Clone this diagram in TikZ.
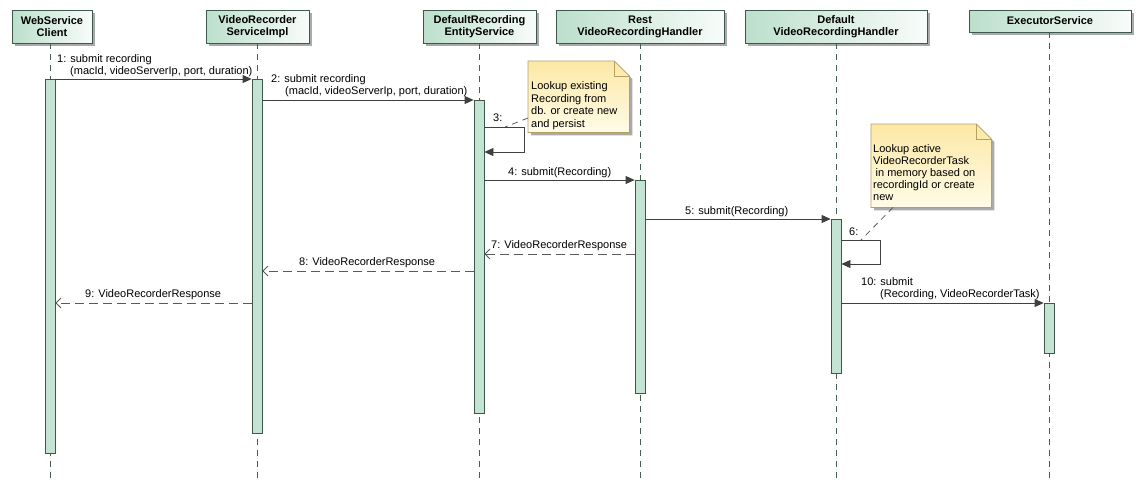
\documentclass[tikz,border=0pt]{standalone}
\usepackage{fontspec}
\setmainfont{Liberation Sans}
\usetikzlibrary{arrows.meta,calc,shadows}
\definecolor{hdrL}{RGB}{188,223,204}
\definecolor{hdrR}{RGB}{248,252,250}
\definecolor{bord}{RGB}{62,88,78}
\definecolor{actfill}{RGB}{196,227,211}
\definecolor{lifec}{RGB}{70,95,85}
\definecolor{arrc}{RGB}{64,64,64}
\definecolor{retc}{RGB}{90,90,90}
\definecolor{noteA}{RGB}{252,232,165}
\definecolor{noteB}{RGB}{255,251,232}
\definecolor{noteBd}{RGB}{180,160,100}
\definecolor{shad}{RGB}{170,170,170}
\newcommand\msgfnt{\fontsize{11}{12}\selectfont}
\begin{document}
\begin{tikzpicture}[x=1pt,y=-1pt,
  hdr/.style={draw=bord, line width=0.8pt, left color=hdrL, right color=hdrR,
    font=\bfseries\fontsize{11}{12}\selectfont, align=center, inner sep=0pt,
    drop shadow={shadow xshift=3pt, shadow yshift=-3pt, fill=shad, opacity=1}},
  act/.style={draw=bord, line width=0.8pt, fill=actfill, minimum width=10pt, inner sep=0pt, anchor=north},
  lifeln/.style={draw=lifec, line width=0.8pt, dash pattern=on 6pt off 5pt},
  msg/.style={draw=arrc, line width=0.8pt, -{Triangle[length=9pt,width=8pt]}},
  ret/.style={draw=retc, line width=0.8pt, dash pattern=on 9pt off 5pt, -{Straight Barb[length=5pt,width=10pt,line width=0.8pt]}},
  lbl/.style={font=\msgfnt, align=left, inner sep=0pt, anchor=north west},
  notebox/.style={inner sep=0pt, anchor=north west},
  notefill/.style={draw=noteBd, line width=0.8pt, top color=noteA, bottom color=noteB,
    drop shadow={shadow xshift=3pt, shadow yshift=-3pt, fill=shad, opacity=1}},
  notetxt/.style={font=\fontsize{11}{12.6}\selectfont, align=left, inner sep=0pt, anchor=north west},
  notelink/.style={draw=retc, line width=0.8pt, dash pattern=on 6pt off 5pt}
]
\useasboundingbox (0,0) rectangle (1140,488);
\fill[white] (0,0) rectangle (1140,488);

% headers
\node[hdr, minimum width=80pt, minimum height=33pt] (h1) at (52,26.5) {WebService\\Client};
\node[hdr, minimum width=103pt, minimum height=33pt] (h2) at (257.5,26.5) {VideoRecorder\\ServiceImpl};
\node[hdr, minimum width=113pt, minimum height=33pt] (h3) at (479.5,26.5) {DefaultRecording\\EntityService};
\node[hdr, minimum width=168pt, minimum height=33pt] (h4) at (640,26.5) {Rest\\VideoRecordingHandler};
\node[hdr, minimum width=182pt, minimum height=33pt] (h5) at (836,26.5) {Default\\VideoRecordingHandler};
\node[hdr, minimum width=162pt, minimum height=22pt] (h6) at (1050,21) {ExecutorService};

% lifeline ends
\coordinate (e1) at (50,478);
\coordinate (e2) at (257,478);
\coordinate (e3) at (479,478);
\coordinate (e4) at (640,478);
\coordinate (e5) at (836,478);
\coordinate (e6) at (1049,478);
\draw[lifeln] (h1.south -| e1) -- (e1);
\draw[lifeln] (h2.south -| e2) -- (e2);
\draw[lifeln] (h3.south -| e3) -- (e3);
\draw[lifeln] (h4.south -| e4) -- (e4);
\draw[lifeln] (h5.south -| e5) -- (e5);
\draw[lifeln] (h6.south -| e6) -- (e6);

% activations
\node[act, minimum height=374pt] (a1) at (50,79) {};
\node[act, minimum height=354pt] (a2) at (257,79) {};
\node[act, minimum height=313pt] (a3) at (479,100) {};
\node[act, minimum height=213pt] (a4) at (640,180) {};
\node[act, minimum height=154pt] (a5) at (836,219) {};
\node[act, minimum height=50pt] (a6) at (1049,303) {};

% message levels
\coordinate (y1) at (0,79);
\coordinate (y2) at (0,100);
\coordinate (y3a) at (0,127);
\coordinate (y3b) at (0,152);
\coordinate (y4) at (0,180);
\coordinate (y5) at (0,219);
\coordinate (y6a) at (0,240);
\coordinate (y6b) at (0,264);
\coordinate (y7) at (0,254);
\coordinate (y8) at (0,271);
\coordinate (y9) at (0,303);
\coordinate (y10) at (0,303);
\coordinate (s3) at (524,0);
\coordinate (s6) at (880,0);

% messages
\draw[msg] (a1.east |- y1) -- (a2.west |- y1);
\draw[msg] (a2.east |- y2) -- (a3.west |- y2);
\draw[msg] (a3.east |- y3a) -- (s3 |- y3a) -- (s3 |- y3b) -- (a3.east |- y3b);
\draw[msg] (a3.east |- y4) -- (a4.west |- y4);
\draw[msg] (a4.east |- y5) -- (a5.west |- y5);
\draw[msg] (a5.east |- y6a) -- (s6 |- y6a) -- (s6 |- y6b) -- (a5.east |- y6b);
\draw[ret] (a4.west |- y7) -- (a3.east |- y7);
\draw[ret] (a3.west |- y8) -- (a2.east |- y8);
\draw[ret] (a2.west |- y9) -- (a1.east |- y9);
\draw[msg] (a5.east |- y10) -- (a6.west |- y10);

% labels
\node[lbl] (l1) at (57,54.5) {1:\hspace{4pt}submit recording\\\hspace{13pt}(macId, videoServerIp, port, duration)};
\node[lbl] (l2) at (271,74.5) {2:\hspace{4pt}submit recording\\\hspace{14pt}(macId, videoServerIp, port, duration)};
\node[lbl] (l3) at (493,113.5) {3:};
\node[lbl] (l4) at (508,167.5) {4:\hspace{4pt}submit(Recording)};
\node[lbl] (l5) at (685,206.5) {5:\hspace{4pt}submit(Recording)};
\node[lbl] (l6) at (849,227.5) {6:};
\node[lbl] (l7) at (491,240.5) {7:\hspace{4pt}VideoRecorderResponse};
\node[lbl] (l8) at (299,257.5) {8:\hspace{4pt}VideoRecorderResponse};
\node[lbl] (l9) at (85,289.5) {9:\hspace{4pt}VideoRecorderResponse};
\node[lbl] (l10) at (861,277.5) {10:\hspace{4pt}submit\\\hspace{19pt}(Recording, VideoRecorderTask)};

% notes
\node[notebox, minimum width=101pt, minimum height=71pt] (n1) at (528,61) {};
\path[notefill] (n1.north west) -- ($(n1.north east)+(-15,0)$) -- ($(n1.north east)+(0,15)$) -- (n1.south east) -- (n1.south west) -- cycle;
\draw[draw=noteBd, line width=0.8pt] ($(n1.north east)+(-15,0)$) -- ($(n1.north east)+(-15,15)$) -- ($(n1.north east)+(0,15)$);
\node[notetxt] (t1) at (531,81.5) {Lookup existing\\Recording from\\db. or create new\\and persist};

\node[notebox, minimum width=120pt, minimum height=83pt] (n2) at (871,124) {};
\path[notefill] (n2.north west) -- ($(n2.north east)+(-15,0)$) -- ($(n2.north east)+(0,15)$) -- (n2.south east) -- (n2.south west) -- cycle;
\draw[draw=noteBd, line width=0.8pt] ($(n2.north east)+(-15,0)$) -- ($(n2.north east)+(-15,15)$) -- ($(n2.north east)+(0,15)$);
\node[notetxt, font=\fontsize{11}{12}\selectfont] (t2) at (873,144.5) {Lookup active\\VideoRecorderTask\\\hspace{2.5pt}in memory based on\\recordingId or create\\new};

% note links
\coordinate (c3) at (505,127);
\coordinate (c6) at (861,240);
\coordinate (k1) at (0,118);
\coordinate (k2) at (893,0);
\draw[notelink] (n1.west |- k1) -- (c3);
\draw[notelink] (n2.south -| k2) -- (c6);
\end{tikzpicture}
\end{document}
